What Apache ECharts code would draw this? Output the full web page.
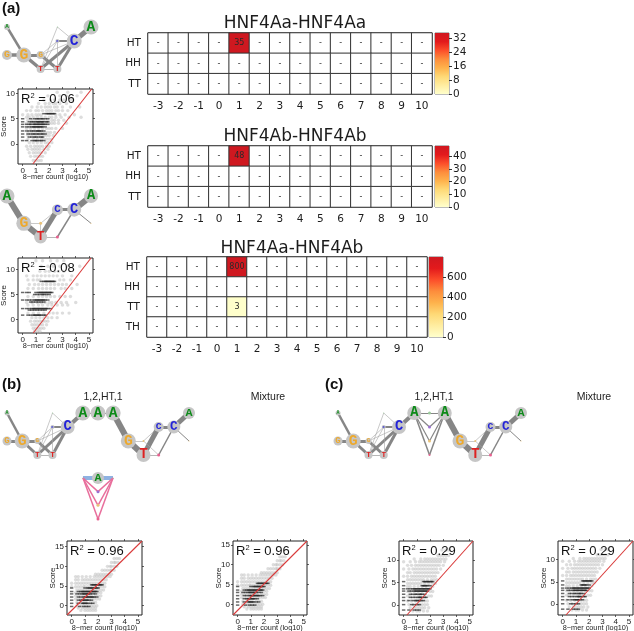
<!DOCTYPE html>
<html><head><meta charset="utf-8">
<script src="https://cdn.jsdelivr.net/npm/echarts@6/dist/echarts.min.js"></script>
<style>html,body{margin:0;background:#fff}#c{width:634px;height:631px}</style></head>
<body><div id="c"></div>
<script>
// ---- heatmap data
const spacings = ['-3','-2','-1','0','1','2','3','4','5','6','7','8','9','10'];
const rowsAA = ['HT','HH','TT'];
const rowsAB = ['HT','HH','TT','TH'];
const aaHT = [0,0,0,0,35,0,0,0,0,0,0,0,0,0];
const aaHH = [0,0,0,0,0,0,0,0,0,0,0,0,0,0];
const aaTT = [0,0,0,0,0,0,0,0,0,0,0,0,0,0];
const bbHT = [0,0,0,0,48,0,0,0,0,0,0,0,0,0];
const bbHH = [0,0,0,0,0,0,0,0,0,0,0,0,0,0];
const bbTT = [0,0,0,0,0,0,0,0,0,0,0,0,0,0];
const abHT = [0,0,0,0,800,0,0,0,0,0,0,0,0,0];
const abHH = [0,0,0,0,0,0,0,0,0,0,0,0,0,0];
const abTT = [0,0,0,0,3,0,0,0,0,0,0,0,0,0];
const abTH = [0,0,0,0,0,0,0,0,0,0,0,0,0,0];
const ticksAA = [0,8,16,24,32];
const ticksBB = [0,10,20,30,40];
const ticksAB = [0,200,400,600];

// ---- scatter data: [score, [log10 counts...]]
const a1Light = [
 [10.2,[2.6,3.4,4.4]],[9.5,[1.9,2.8,3.3,4.1]],[8.7,[1.6,2.1,2.4,2.8,3.1,3.7]],[8,[1.2,1.7,2,2.3,2.5,2.8,3.3]],
 [7.3,[.7,1.1,1.4,1.7,1.9,2.1,2.4,2.6,3,3.6,4.3]],[6.6,[.3,.6,1,1.2,1.5,1.8,2,2.2,2.5,2.7,3,3.4]],
 [5.8,[0,.4,.7,1,1.2,1.4,2.5,2.8,3.2,3.9]],[5.3,[.3,.5,.8,1.1,1.4,1.7,2,2.2,2.5,2.9,3.5,4.4]],[4.7,[.4,.7,1,1.3,1.6,1.9,2.2,2.4,2.7,3.1]],
 [4.1,[.3,.6,.9,1.2,1.5,1.8,2,2.2,2.4,2.7,3.3]],[3.1,[.3,.6,.9,1.2,1.5,1.8,2,2.2,2.5,3]],[2.3,[.4,.7,1,1.3,1.5,1.7,1.9,2.1,2.4]],[1.7,[.4,.7,1,1.3,1.6,1.8,2,2.3]],
 [1,[.4,.8,1.1,1.4,1.6,1.8,2,2.2]],[.3,[.5,.8,1.1,1.4,1.7,1.9,2.2]],[-.4,[.3,.6,.9,1.1,1.3,1.5,1.8,2]],[-1,[.4,.7,.9,1.1,1.3,1.6,1.9]],
 [-1.7,[.5,.8,1,1.2,1.4,1.7]],[-2.4,[.6,.9,1.1,1.3,1.5]],[-3.2,[.8,1,1.2,1.4]]];
const a1Dark = [
 [6,[1.6,1.8,1.9,2,2.1,2.2,2.3,2.4]],[5,[0,.6,.9,1.1,1.2,1.4,1.5,1.7,1.9]],[4.4,[0,.5,.7,.8,1,1.1,1.2,1.3,1.4,1.5,1.6,1.8,1.9]],
 [3.9,[0,.3,.5,.6,.8,.9,1,1.1,1.2,1.3,1.4,1.5,1.6,1.7,1.9]],[3.4,[0,.3,.5,.7,.8,.9,1,1.1,1.2,1.3,1.4,1.5,1.7]],
 [2.6,[0,.3,.5,.7,.8,1,1.1,1.2,1.3,1.4,1.6]],[2,[0,.4,.6,.8,.9,1.1,1.2,1.4,1.5,1.7]],[1.4,[0,.5,.7,.9,1,1.2,1.4,1.5]],
 [.7,[0,.3,.7,.9,1,1.1,1.3,1.4,1.6]]];
const a2Light = [
 [11.7,[1,1.5,2.1,2.6,3.1]],[10.6,[1.4,1.9,2.3,2.8,3.4,4.3]],[9.6,[1.3,1.7,2,2.4,2.7,3.1]],[8.7,[.3,.8,1.1,1.4,1.7,2,2.3,2.6,3,3.7]],
 [7.9,[.4,.8,1.1,1.3,2.8,3.1,3.6]],[7,[.5,.9,1.2,1.5,1.8,2.1,2.4,2.7,3,3.3,4.1]],[6.2,[.4,.8,1.2,1.5,1.8,2.1,2.4,2.9,3.2,3.7]],
 [4.6,[.4,.8,1.2,1.5,1.8,2.1,2.4,2.8,3.2,3.6]],[3.4,[.3,.7,1.1,1.4,1.7,2,2.2,2.5,2.9,3.3,4]],[2.9,[.4,.8,1.2,1.5,1.9,2.2,2.6,3,3.4]],[1.3,[.4,.8,1.2,1.6,2,2.3,2.6,3,3.5]],
 [.4,[.7,1,1.3,1.6,1.9,2.2,2.6]],[-.3,[.6,.9,1.1,1.3,1.5,1.7,1.9]],[-1,[.7,.9,1.1,1.3,1.5,1.8]],[-1.7,[.8,1,1.2,1.4,1.6]],[-2.3,[.9,1.1,1.3]]];
const a2Dark = [
 [7.6,[1.4,1.6,1.7,1.8,1.9,2,2.1,2.2,2.3,2.4]],[5.4,[0,.3,.5,1,1.2,1.3,1.4,1.5,1.6,1.7,1.8,1.9,2,2.1,2.2]],[5,[.9,1.1,1.3,1.5,1.6,1.8,2]],
 [3.9,[0,.3,.5,.7,.9,1,1.1,1.2,1.3,1.4,1.5,1.6,1.7,1.9]],[3.5,[.6,.8,1,1.2,1.4,1.6]],[2.2,[0,.3,.5,.7,.8,.9,1,1.1,1.2,1.3,1.4,1.5,1.6,1.7,1.8,1.9,2.1]],
 [1.9,[.5,.7,.9,1.1,1.3,1.5,1.7]],[.9,[0,.4,.6,.8,.9,1,1.1,1.2,1.3,1.4,1.6,1.7]]];
const bLight = [
 [12,[3.2,3.4,3.6]],[11,[3,3.2,3.3,3.5]],[10,[2.7,2.9,3,3.2,3.4]],[9,[2.3,2.5,2.7,2.9,3,3.2]],[8,[1.8,2,2.2,2.4,2.6,2.8,3]],
 [7.4,[.3,.5,.8,1.1,1.4,1.7,1.9,2.1,2.3,2.5,2.7,2.9]],[6.6,[.3,.5,.8,1,1.2,1.4,1.6,1.8,2,2.2,2.4,2.6]],
 [5.7,[0,.3,.5,.7,.9,1.1,1.3,1.5,1.7,1.9,2.1,2.3,2.5]],[4.8,[0,.3,.5,.7,.9,1,1.2,1.4,1.6,1.8,2.1,2.3,2.5]],[4,[.4,.6,.8,1,1.2,1.4,1.6,1.8,2,2.2,2.4]],
 [3.3,[.3,.5,.7,.9,1.1,1.3,1.5,1.7,2,2.2]],[2.5,[.3,.5,.7,.9,1.1,1.3,1.5,1.8,2,2.2]],[1.7,[.3,.5,.7,.9,1.1,1.3,1.5,1.7,1.9,2.1]],[.8,[.4,.7,.9,1.1,1.4,1.6,1.8]],[0,[.4,.7,.9,1.1,1.3,1.5,1.7,1.9]],
 [-.6,[.5,.8,1,1.2,1.4,1.6,1.8]],[-1.2,[.7,1,1.2,1.4,1.6,1.8]]];
const bDark = [
 [5.3,[1.5,1.6,1.7,1.8,1.9,2,2.1,2.2,2.3]],[4.5,[0,1,1.2,1.3,1.4,1.5,1.6,1.7,1.8,1.9,2]],[3.6,[0,.5,.7,.8,.9,1,1.1,1.2,1.3,1.4,1.5,1.6,1.7,1.8,1.9]],
 [3,[0,.4,.6,.8,.9,1,1.1,1.2,1.3,1.4,1.6,1.8]],[2.2,[0,.5,.7,.9,1,1.1,1.2,1.3,1.4,1.5,1.6,1.7,1.9]],[1.4,[0,.5,.7,.8,.9,1,1.1,1.2,1.3,1.5]],
 [.6,[0,.5,.8,.9,1,1.1,1.2,1.4,1.6]],[-.2,[0,.6,.9,1.1,1.3]]];
const cLight = [
 [12.2,[2.9,3.2,3.4]],[11,[2.6,2.8,3,3.2,3.4]],[10.2,[.8,1.3,1.6,1.8,2,2.2,2.4,2.6,2.8,3,3.2]],[9.6,[0,.5,.9,1.2,1.4,1.6,1.8,2,2.2,2.4,2.6,2.8,3.1]],
 [8.8,[.3,.6,.9,1.1,1.3,1.5,1.7,1.9,2.1,2.3,2.5,2.7,3]],[8,[0,.4,.7,.9,1.1,1.3,1.5,1.7,1.9,2.1,2.3,2.5,2.8]],
 [7.2,[.3,.5,.8,1,1.2,1.4,1.6,1.8,2,2.2,2.4,2.6]],[6.4,[0,.3,.6,.8,1,1.2,1.4,1.6,1.8,2,2.2,2.4]],[5.6,[.3,.5,.7,.9,1.1,1.3,1.5,1.8,2.1,2.3,2.5]],
 [4.8,[.3,.5,.7,.9,1.1,1.3,1.6,1.9,2.2,2.4]],[4.1,[.3,.5,.8,1.1,1.4,1.7,2,2.2]],[3,[.3,.5,.8,1.1,1.4,1.7,2,2.2]],[2,[.3,.5,.8,1.1,1.3,1.6,1.9,2.1]],[.9,[.3,.6,.9,1.2,1.4,1.6,1.8]],
 [.1,[.4,.7,1,1.2,1.4,1.6,1.8]],[-.6,[.5,.8,1,1.2,1.4,1.6,1.9]],[-1.3,[.7,1,1.2,1.5,1.8]]];
const cDark = [
 [5.2,[0,1.5,1.6,1.7,1.8,1.9,2,2.1,2.2]],[4.3,[0,1.4,1.5,1.6,1.7,1.8,2]],[3.6,[0,.3,.5,.7,.8,.9,1,1.1,1.2,1.3,1.4,1.5,1.6,1.7,1.8,1.9,2]],
 [3.1,[0,.4,.6,.8,.9,1,1.1,1.2,1.3,1.4,1.5,1.6,1.7,1.8]],[2.4,[0,.5,.7,.9,1,1.2,1.3,1.4,1.6]],[1.7,[0,.5,.7,.9,1.1,1.2,1.3,1.4,1.6,1.7]],
 [1,[0,.4,.7,.9,1,1.1,1.2,1.3,1.5]],[.1,[0,.6,.8,1,1.2]],[-1.1,[0,.4,.8,1,1.2]]];

// red reference lines, axis-space end points
const a1Fit = [[.77,-3.9],[5.2,10.85]];
const a2Fit = [[.8,-2.65],[5.15,12.25]];
const bFit = [[-.35,-2.37],[5.3,16.45]];
const b2Fit = [[-.35,-2.7],[5.25,16]];
const cFit = [[.25,-2.2],[5.25,14.2]];
const c2Fit = [[.25,-2.4],[5.3,14.1]];

// ---- motif graphs: nodes [position, base, weight], edges [from, to, weight]
const a1Nodes = [[0,'A',6],[0,'G',10],[1,'G',15],[2,'G',8],[2,'T',8],[3,'A',1],[3,'C',4],[3,'T',8],[4,'C',15],[5,'A',15]];
const a1Edges = [[0,2,2.5],[1,2,3.5],[2,3,3],[2,4,3.5],[3,7,3],[4,7,.8],[4,8,3],[7,8,3],[6,8,2],[8,9,5],[5,8,.6],[5,4,.6],[6,3,.6],[6,4,.6],[3,8,.6],[7,6,.6]];
const a2Nodes = [[0,'A',15],[1,'G',15],[2,'G',3],[2,'T',13],[3,'C',11],[3,'T',3],[4,'C',14],[5,'A',14],[5,'G',1]];
const a2Edges = [[0,1,6],[1,3,6],[1,2,.6],[2,3,.6],[2,4,.6],[3,4,5],[4,6,3],[6,7,6],[6,5,1.5],[3,5,.8],[6,8,1]];
const bNodes = [[0,'A',5],[0,'G',9],[1,'G',15],[2,'G',6],[2,'T',8],[3,'A',1],[3,'C',4],[3,'T',8],[4,'C',14],[5,'A',15],[6,'A',15],[7,'A',15],[8,'G',15],[9,'T',14],[10,'T',3],[10,'C',10],[11,'C',13],[12,'A',12],[12,'G',1],[9,'G',2]];
const bEdges = [[0,2,2.5],[1,2,3],[2,3,3],[2,4,3],[3,7,3],[4,7,.8],[4,8,3],[7,8,3],[6,8,2],[8,9,4],[9,10,1],[10,11,1],[11,12,6],[12,13,6],[13,15,5],[15,16,3],[16,17,5],[16,14,1.5],[13,14,.8],[16,18,1],[12,19,.6],[19,14,.6],[15,19,.6],[5,8,.6],[5,4,.6],[6,3,.6],[6,4,.6],[3,8,.6],[7,6,.6]];
const cNodes = [[0,'A',5],[0,'G',9],[1,'G',15],[2,'G',6],[2,'T',8],[3,'A',1],[3,'C',4],[3,'T',8],[4,'C',14],[5,'A',14],[6,'A',3],[6,'C',3],[6,'G',3],[6,'T',2],[7,'A',14],[8,'G',15],[9,'T',14],[9,'G',2],[10,'T',3],[10,'C',10],[11,'C',13],[12,'A',12],[12,'G',1]];
const cEdges = [[0,2,2.5],[1,2,3],[2,3,3],[2,4,3],[3,7,3],[4,7,.8],[4,8,3],[7,8,3],[6,8,2],[8,9,4],[9,10,1],[10,14,1],[9,11,1.2],[11,14,1.2],[9,12,1.2],[12,14,1.2],[9,13,1.5],[13,14,1.5],[14,15,6],[15,16,6],[16,19,5],[19,20,3],[20,21,5],[20,18,1.5],[16,18,.8],[20,22,1],[15,17,.6],[17,18,.6],[19,17,.6],[5,8,.6],[5,4,.6],[6,3,.6],[6,4,.6],[3,8,.6],[7,6,.6]];
const subNodes = [[0,'A',1],[1,'A',12],[2,'A',1],[1,'C',3],[1,'G',3],[1,'T',3]];
const subBand = [[0,2,4]];
const subPink = [[0,3,1.5],[0,4,1.5],[0,5,1.5],[2,3,1.5],[2,4,1.5],[2,5,1.5]];

// ---- assembly
const grid=[],xAxis=[],yAxis=[],series=[],visualMap=[],title=[];
const SANS='"Liberation Sans",Arial,sans-serif', DJ='"DejaVu Sans",sans-serif', INK='#1c1c1c';
const ramp=['#ffffcc','#ffeda0','#fed976','#feb24c','#fd8d3c','#fc4e2a','#e31a1c','#cf1820'];

function addGrid(g,x,y){const gi=grid.length,ai=xAxis.length;grid.push({...g,outerBoundsMode:'none'});xAxis.push({...x,gridIndex:gi});yAxis.push({...y,gridIndex:gi});return ai;}
function addHeat(name,titleX,titleY,box,cats,rows,bar,barTicks,max){
  const g=addGrid({left:box[0],top:box[1],width:box[2],height:box[3],show:true,borderColor:'#333',borderWidth:1,backgroundColor:'#fff'},
   {type:'category',data:cats,axisTick:{show:false},axisLine:{show:false},splitLine:{show:false},
    axisLabel:{interval:0,fontFamily:DJ,fontSize:10.5,color:INK,margin:7}},
   {type:'category',inverse:true,data:rows.map(r=>r[0]),axisTick:{show:false},axisLine:{show:false},
    axisLabel:{fontFamily:DJ,fontSize:10.5,color:INK,margin:7}});
  const data=[];rows.forEach((r,yi)=>r[1].forEach((v,xi)=>data.push([xi,yi,v])));
  series.push({type:'heatmap',xAxisIndex:g,yAxisIndex:g,data,
    itemStyle:{borderColor:'#333',borderWidth:1},
    label:{show:true,fontFamily:DJ,fontSize:8,color:'#2a2a2a',formatter:p=>p.value[2]===0?'-':String(p.value[2])},
    emphasis:{disabled:true}});
  visualMap.push({show:false,seriesIndex:series.length-1,dimension:2,min:1,max:max,unboundedRange:false,inRange:{color:ramp},outOfRange:{color:'#ffffff'}});
  const b=addGrid({left:bar[0],top:box[1],width:bar[1],height:box[3],show:true,borderColor:'#777',borderWidth:1},
   {type:'category',data:['v'],show:false},
   {type:'value',min:0,max:max,position:'right',splitLine:{show:false},axisLine:{show:false},
    axisTick:{show:true,length:3,lineStyle:{color:'#333'},customValues:barTicks},
    axisLabel:{fontFamily:DJ,fontSize:10.5,color:INK,margin:4,customValues:barTicks}});
  series.push({type:'bar',xAxisIndex:b,yAxisIndex:b,data:[max],barWidth:'100%',silent:true,
    itemStyle:{color:{type:'linear',x:0,y:1,x2:0,y2:0,colorStops:ramp.map((c,i)=>({offset:i/(ramp.length-1),color:c}))}}});
  title.push({text:name,left:titleX,top:titleY,textAlign:'center',textStyle:{fontFamily:DJ,fontSize:17,fontWeight:'normal',color:INK}});
}
function expand(rows){const o=[];rows.forEach(r=>r[1].forEach(x=>o.push([x,r[0]])));return o;}
function addScatter(box,xr,yr,yTicks,light,dark,fit,r2){
  const xt=[0,1,2,3,4,5],tk={show:true,length:2,lineStyle:{color:'#222',width:.7}},nl={show:false,onZero:false};
  const lab={fontFamily:SANS,fontSize:8,color:'#222',margin:3};
  const i=grid.length, ax=xAxis.length;
  grid.push({left:box[0],top:box[1],width:box[2],height:box[3],show:true,borderColor:'#222',borderWidth:1,outerBoundsMode:'none'});
  xAxis.push({type:'value',gridIndex:i,min:xr[0],max:xr[1],position:'bottom',splitLine:{show:false},axisLine:nl,
    axisTick:{...tk,customValues:xt},axisLabel:{...lab,customValues:xt},
    name:'8\u2212mer count (log10)',nameLocation:'middle',nameGap:9,nameMoveOverlap:false,nameTextStyle:{fontFamily:SANS,fontSize:7.3,color:'#222'}});
  yAxis.push({type:'value',gridIndex:i,min:yr[0],max:yr[1],position:'left',splitLine:{show:false},axisLine:nl,
    axisTick:{...tk,customValues:yTicks},axisLabel:{...lab,customValues:yTicks},
    name:'Score',nameLocation:'middle',nameGap:10,nameMoveOverlap:false,nameTextStyle:{fontFamily:SANS,fontSize:8,color:'#222'}});
  xAxis.push({type:'value',gridIndex:i,min:xr[0],max:xr[1],position:'top',splitLine:{show:false},axisLine:nl,
    axisTick:{...tk,customValues:xt},axisLabel:{show:false}});
  yAxis.push({type:'value',gridIndex:i,min:yr[0],max:yr[1],position:'right',splitLine:{show:false},axisLine:nl,
    axisTick:{...tk,customValues:yTicks},axisLabel:{show:false}});
  series.push({type:'scatter',xAxisIndex:ax,yAxisIndex:ax,data:expand(light),symbol:'circle',symbolSize:3.4,silent:true,
    itemStyle:{color:'#bcbcbc',opacity:.5}});
  series.push({type:'scatter',xAxisIndex:ax,yAxisIndex:ax,data:expand(dark),symbol:'rect',symbolSize:[3.4,1.5],silent:true,
    itemStyle:{color:'#222222',opacity:.68}});
  series.push({type:'line',xAxisIndex:ax,yAxisIndex:ax,data:fit,symbol:'none',silent:true,lineStyle:{color:'#d93a3a',width:1.1}});
  title.push({text:'{r|R}{s|2}{r| = '+r2+'}',left:box[0]+3,top:box[1]+3,padding:0,textStyle:{fontWeight:'normal',rich:{
    r:{fontFamily:SANS,fontSize:13,fontWeight:'normal',color:'#111',lineHeight:15},
    s:{fontFamily:SANS,fontSize:7.5,fontWeight:'normal',color:'#111',verticalAlign:'top',lineHeight:13}}}});
}
const baseRow={A:0,C:1,G:2,T:3};
const baseInk={A:'#0c8a18',C:'#2323d8',G:'#eda92d',T:'#dd2222'};
const baseTint={A:'#9ccc9c',C:'#9a6fd0',G:'#e9c27a',T:'#e8608f'};
function addNet(box,nCols,nodes,edgeSets){
  const g=addGrid({left:box[0],top:box[1],width:box[2],height:box[3],show:false},
    {type:'value',min:0,max:nCols-1,show:false},{type:'value',min:0,max:3,inverse:true,show:false});
  const links=[];
  edgeSets.forEach(s=>s.edges.forEach(e=>links.push({source:e[0],target:e[1],
    lineStyle:{width:e[2],opacity:1,curveness:0,color:s.color||(e[2]<1?'#a5a5a5':'#868686')}})));
  series.push({type:'graph',coordinateSystem:'cartesian2d',xAxisIndex:g,yAxisIndex:g,layout:'none',silent:true,
    animation:false,edgeSymbol:['none','none'],
    data:nodes.map(n=>({value:[n[0],baseRow[n[1]]],symbol:'circle',symbolSize:n[2],
      itemStyle:{color:n[2]<4?baseTint[n[1]]:'#c6c6c6',opacity:1},
      label:{show:n[2]>=4,formatter:n[1],position:'inside',fontFamily:'"Liberation Mono",monospace',fontWeight:'bold',
        fontSize:n[2]*.98,color:baseInk[n[1]]}})),
    links});
}
const rowsOf=(names,arrs)=>names.map((n,i)=>[n,arrs[i]]);
addHeat('HNF4Aa-HNF4Aa',290,10,[148,33,284,61],spacings,rowsOf(rowsAA,[aaHT,aaHH,aaTT]),[435,14],ticksAA,35);
addHeat('HNF4Ab-HNF4Ab',290,123,[148,146,284,61],spacings,rowsOf(rowsAA,[bbHT,bbHH,bbTT]),[435,14],ticksBB,48);
addHeat('HNF4Aa-HNF4Ab',287,235,[147,257,280,80],spacings,rowsOf(rowsAB,[abHT,abHH,abTT,abTH]),[429,14],ticksAB,800);

addScatter([18,89,75,75],[-.35,5.3],[-3.9,10.85],[0,5,10],a1Light,a1Dark,a1Fit,'0.06');
addScatter([18,258,75,75],[-.35,5.3],[-2.65,12.25],[0,5,10],a2Light,a2Dark,a2Fit,'0.08');
addScatter([67,541,75,74],[-.35,5.3],[-2.37,16.45],[0,5,10,15],bLight,bDark,bFit,'0.96');
addScatter([233,541,74,74],[-.35,5.25],[-2.7,16],[0,5,10,15],bLight,bDark,b2Fit,'0.96');
addScatter([399,541,74,74],[-.35,5.25],[-2.2,14.2],[0,5,10],cLight,cDark,cFit,'0.29');
addScatter([558,541,75,74],[-.35,5.3],[-2.4,14.1],[0,5,10],cLight,cDark,c2Fit,'0.29');

addNet([7,27,84,42],6,a1Nodes,[{edges:a1Edges}]);
addNet([7,196,84,41],6,a2Nodes,[{edges:a2Edges}]);
addNet([7,413,182,42],13,bNodes,[{edges:bEdges}]);
addNet([338,413,183,42],13,cNodes,[{edges:cEdges}]);
addNet([83,478,30,41],3,subNodes,[{edges:subBand,color:'#8fb2e2'},{edges:subPink,color:'#e86f9c'}]);

[['(a)',2,1],['(b)',2,377],['(c)',325,377]].forEach(t=>title.push({text:t[0],left:t[1],top:t[2],padding:0,
  textStyle:{fontFamily:SANS,fontSize:15,fontWeight:'bold',color:'#111'}}));
[['1,2,HT,1',98,387],['Mixture',263,387],['1,2,HT,1',429,387],['Mixture',589,387]].forEach(t=>title.push({text:t[0],left:t[1],top:t[2],
  textAlign:'center',textStyle:{fontFamily:SANS,fontSize:10.5,fontWeight:'normal',color:'#222'}}));

echarts.init(document.getElementById('c')).setOption({animation:false,backgroundColor:'#fff',title,grid,xAxis,yAxis,visualMap,series});
</script></body></html>
